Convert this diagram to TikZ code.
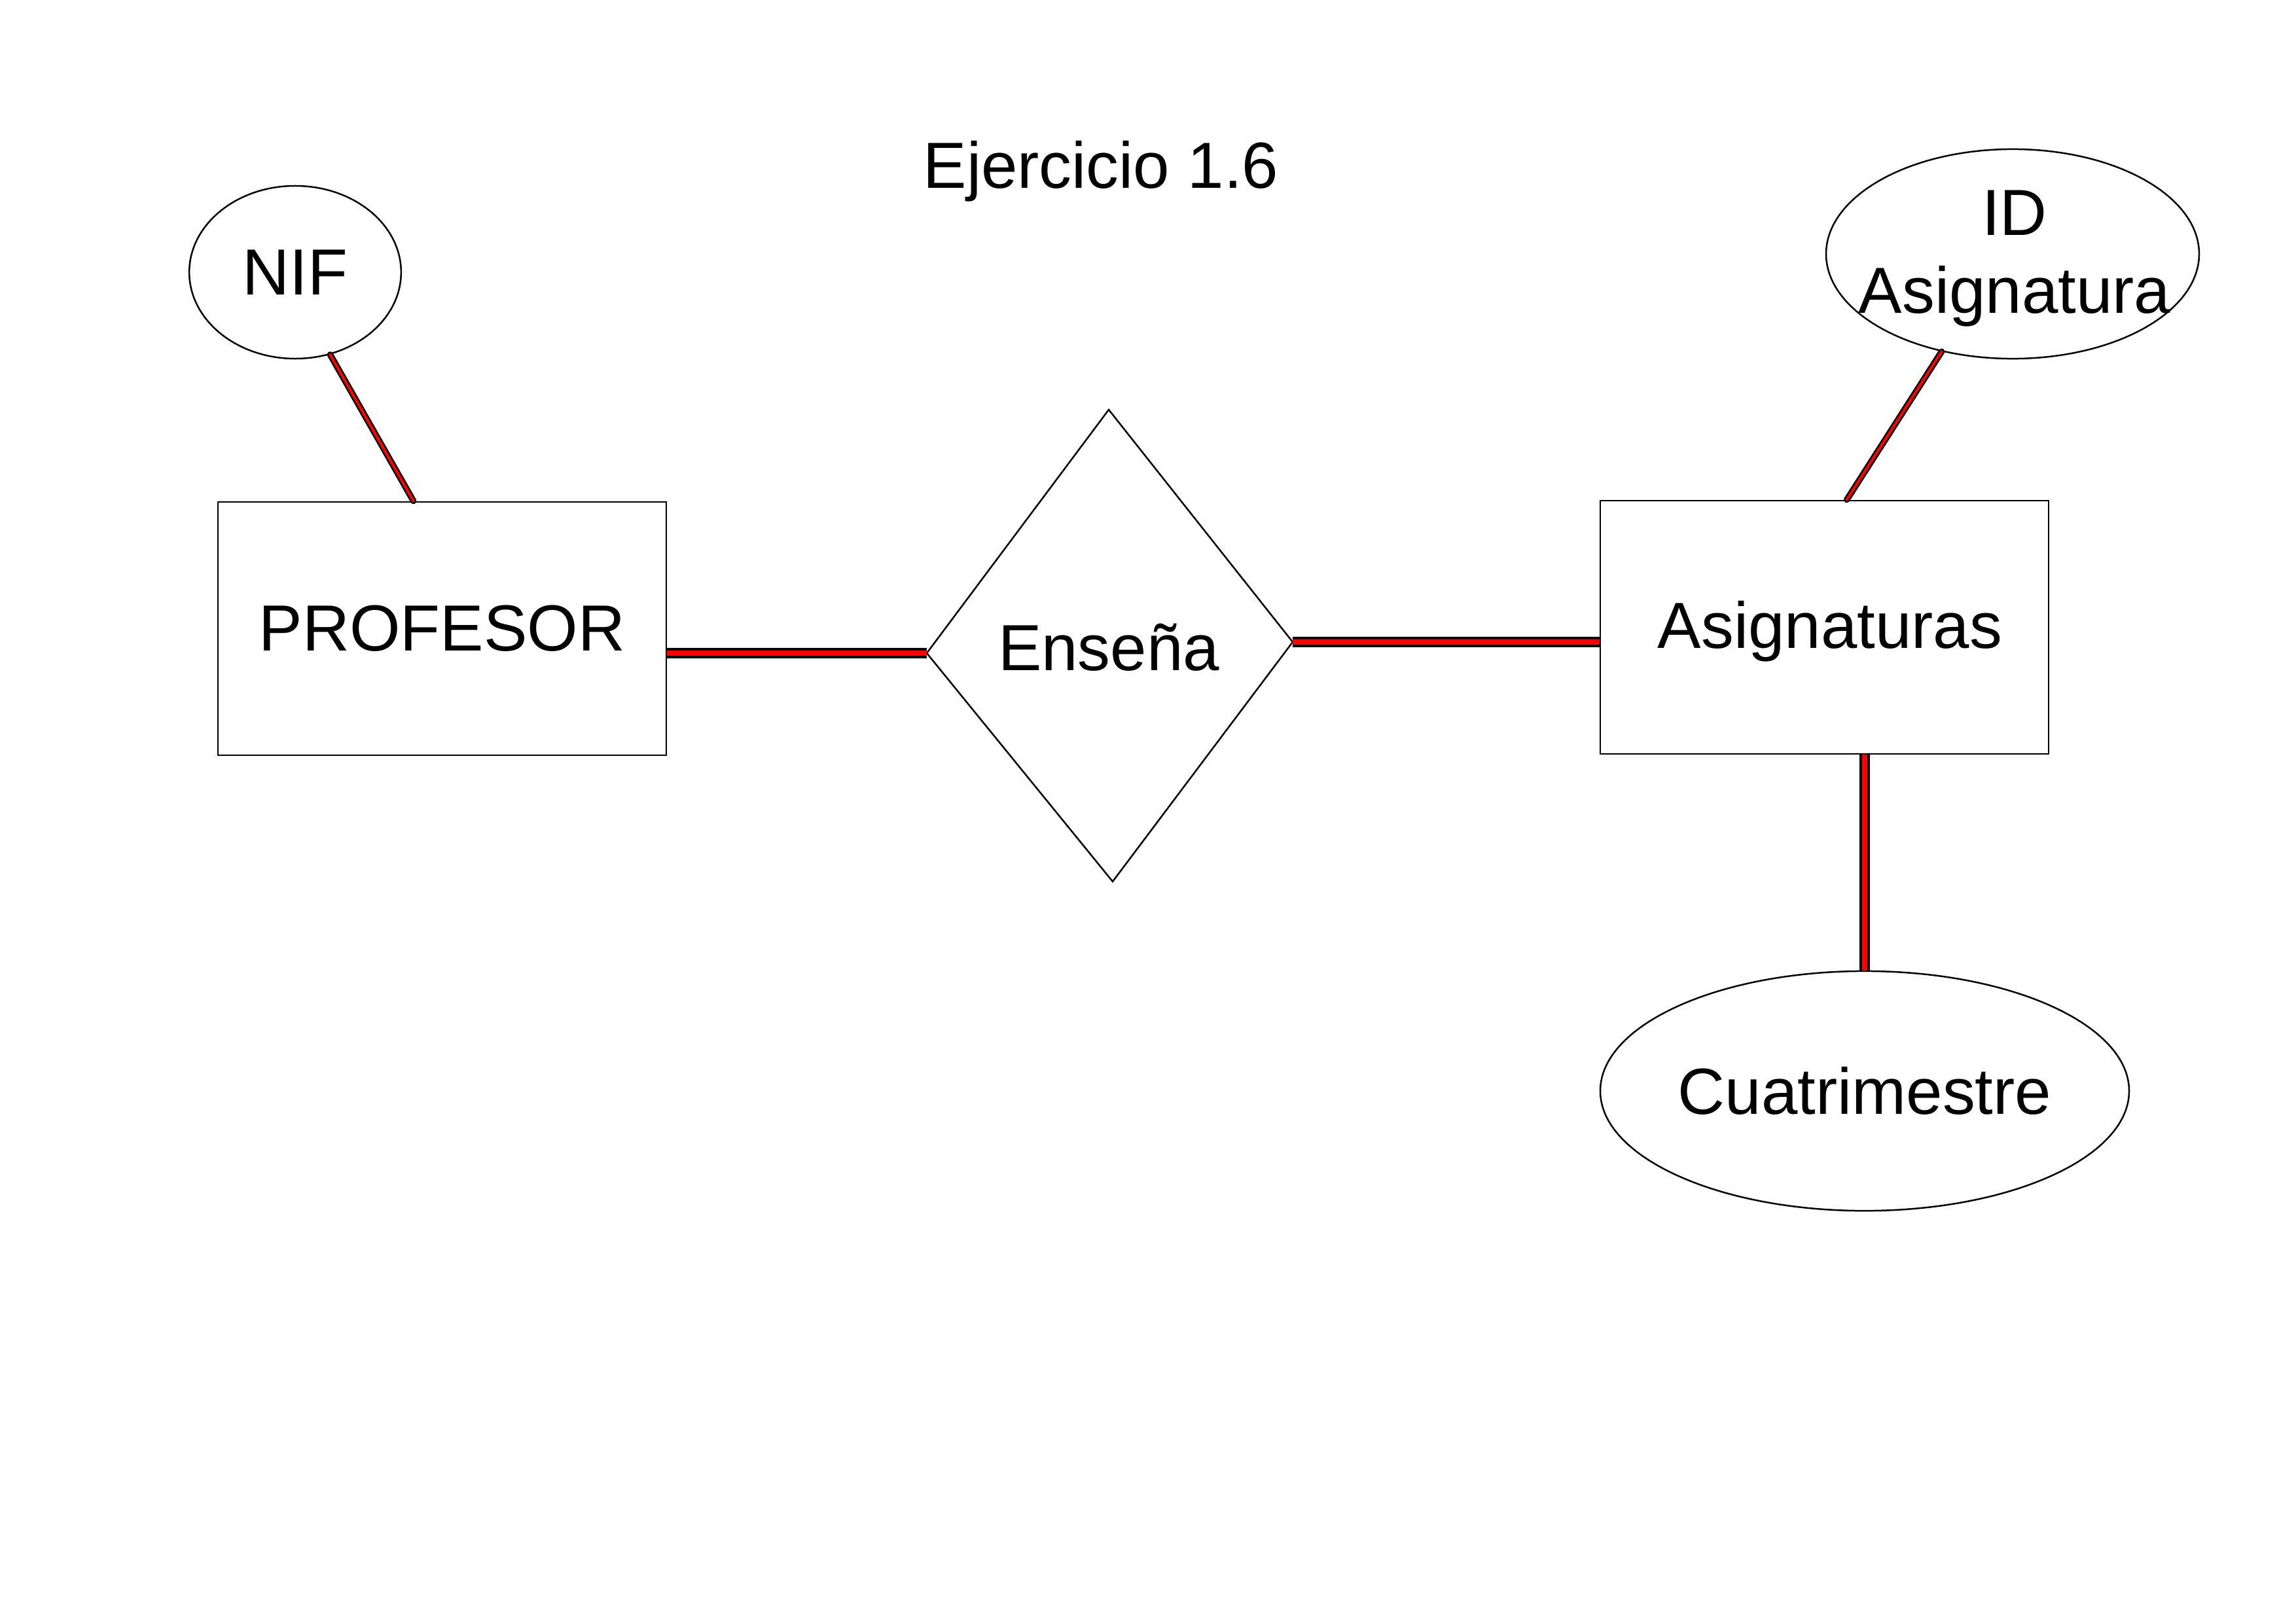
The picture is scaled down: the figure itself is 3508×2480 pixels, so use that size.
\documentclass[tikz,border=0pt]{standalone}
\usepackage{fontspec}
\setmainfont{Liberation Sans}
\usetikzlibrary{shapes.geometric,calc}
\begin{document}
\begin{tikzpicture}[x=0.08466mm,y=-0.08466mm,
  lbl/.style={font=\fontsize{24}{28.7}\selectfont, align=center},
  ent/.style={draw=black, line width=0.6pt, rectangle, inner sep=0pt},
  attr/.style={draw=black, line width=0.6pt, ellipse, inner sep=0pt},
  conn/.style={draw=black, line width=0.95pt, double=red, double distance=2.0pt},
  connthin/.style={draw=black, line width=0.65pt, double=red, double distance=1.0pt, line cap=round}]
\useasboundingbox (0,0) rectangle (3508,2480);
\fill[white] (0,0) rectangle (3508,2480);

\node[lbl] (title) at (1682,262) {Ejercicio 1.6};

\node[attr, minimum width=27.4mm, minimum height=22.35mm, lbl] (nif) at (451,416) {NIF};

\node[ent, minimum width=58mm, minimum height=32.8mm, lbl] (prof) at (675.5,960.5) {PROFESOR};
\node[ent, minimum width=58mm, minimum height=32.8mm] (asig) at (2787.5,958.5) {};
\node[lbl] (asigtext) at (2796,965) {Asignaturas};

\node[attr, minimum width=48.25mm, minimum height=27.1mm] (idas) at (3075,388) {};
\node[lbl] (idastext) at (3078,395) {ID\\Asignatura};
\node[attr, minimum width=68.4mm, minimum height=31mm, lbl] (cuat) at (2849,1667) {Cuatrimestre};

\coordinate (dt) at (1694,626);
\coordinate (dl) at (1416,998);
\coordinate (dr) at (1975,981);
\coordinate (db) at (1700,1347);
\draw[black, line width=0.6pt, line join=miter] (dt) -- (dr) -- (db) -- (dl) -- cycle;
\node[lbl] (ens) at (1694,989) {Enseña};

\draw[conn] (dl) -- (dl -| prof.east);
\draw[conn] (dr) -- (dr -| asig.west);
\draw[conn] (cuat.north) -- (cuat.north |- asig.south);
\draw[connthin] (nif.-67.4) -- ($(prof.north west)+(300,0)$);
\draw[connthin] (idas.-126) -- ($(asig.north west)+(378,0)$);
\end{tikzpicture}
\end{document}
